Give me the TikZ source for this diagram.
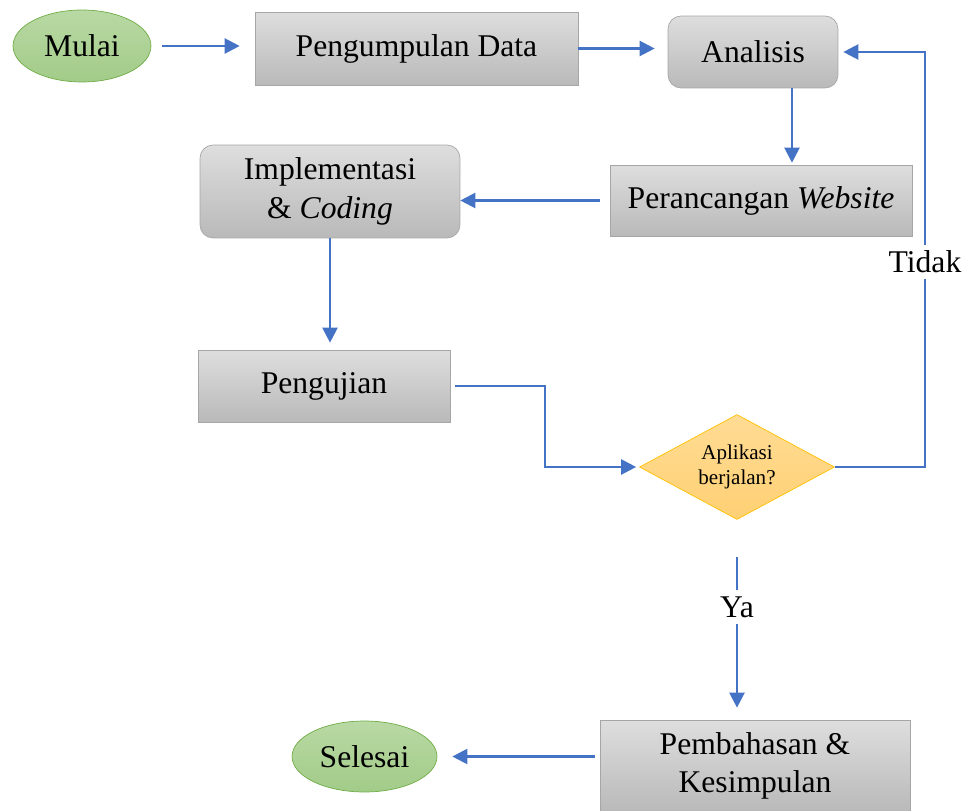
\documentclass[tikz,border=0pt]{standalone}
\usepackage{fontspec}
\setmainfont{Liberation Serif}
\usetikzlibrary{arrows.meta,shapes.geometric,calc}

\definecolor{alurbiru}{HTML}{4472C4}
\definecolor{abuatas}{HTML}{DEDEDE}
\definecolor{abubawah}{HTML}{B9B9B9}
\definecolor{garisabu}{HTML}{A6A6A6}
\definecolor{hijauatas}{HTML}{B9D9A4}
\definecolor{hijaubawah}{HTML}{A2CB88}
\definecolor{garishijau}{HTML}{70AD47}
\definecolor{kuningatas}{HTML}{FFDC94}
\definecolor{kuningbawah}{HTML}{FFD074}
\definecolor{gariskuning}{HTML}{FFC000}

\begin{document}
\begin{tikzpicture}[x=0.02cm, y=-0.02cm,
	font=\fontsize{18}{22}\selectfont,
	kotak/.style={shape=rectangle, draw=garisabu, top color=abuatas, bottom color=abubawah, align=center, inner sep=0pt},
	bulat/.style={kotak, rounded corners=0.26cm},
	oval/.style={shape=ellipse, draw=garishijau, top color=hijauatas, bottom color=hijaubawah, inner sep=0pt},
	cabang/.style={shape=diamond, draw=gariskuning, top color=kuningatas, bottom color=kuningbawah, align=center, inner sep=0pt, aspect=1.86, font=\fontsize{12}{14}\selectfont},
	garis/.style={draw=alurbiru, line width=1.3pt},
	alur/.style={garis, -{Triangle[length=0.3cm,width=0.3cm]}}]

	\clip (0,0) rectangle (968,811);

	\node[oval, minimum width=2.76cm, minimum height=1.44cm] (mulai) at (82, 46) {Mulai};
	\node[kotak, minimum width=6.46cm, minimum height=1.46cm] (data) at (416.5, 48.5) {Pengumpulan Data};
	\node[bulat, minimum width=3.4cm, minimum height=1.44cm] (analisis) at (753, 52) {Analisis};

	\node[kotak, minimum width=6.04cm, minimum height=1.42cm] (rancang) at (761, 200.5) {Perancangan \textit{Website}};
	\node[bulat, minimum width=5.2cm, minimum height=1.86cm] (impl) at (330, 191.5) {Implementasi\\ \& \textit{Coding}};

	\node[kotak, minimum width=5.04cm, minimum height=1.44cm] (uji) at (324, 386) {Pengujian};
	\node[cabang, minimum width=3.9cm, minimum height=2.1cm] (cek) at (737, 467) {Aplikasi\\berjalan?};

	\node (tidak) at (925, 262) {Tidak};
	\node (ya) at (737, 607) {Ya};

	\node[kotak, minimum width=6.2cm, minimum height=1.84cm] (hasil) at (755, 766) {Pembahasan \&\\Kesimpulan};
	\node[oval, minimum width=2.9cm, minimum height=1.42cm] (selesai) at (364.5, 756.5) {Selesai};

	\path[alur, shorten <=0.22cm, shorten >=0.3cm] (mulai.east) -- (mulai.east -| data.west);
	\path[alur, shorten >=0.26cm] (data.east) -- (data.east -| analisis.west);
	\path[alur, shorten >=0.04cm] ([xshift=0.78cm]analisis.south) -- ([xshift=0.78cm]analisis.south |- rancang.north);
	\path[alur, shorten <=0.2cm] (rancang.west) -- (rancang.west -| impl.east);
	\path[alur, shorten >=0.14cm] (impl.south) -- (impl.south |- uji.north);
	\path[alur, shorten <=0.1cm, shorten >=0.06cm] (uji.east) -| ($(uji.east)!0.5!(cek.west)$) |- (cek.west);
	\path[garis] (cek.east) -| (tidak.south);
	\path[alur, shorten >=0.1cm] (tidak.north) |- (analisis.east);
	\path[garis, shorten <=0.74cm] (cek.south) -- (ya.north);
	\path[alur, shorten >=0.24cm] (ya.south) -- (ya.south |- hasil.north);
	\path[alur, shorten <=0.1cm, shorten >=0.3cm] (selesai.east -| hasil.west) -- (selesai.east);

\end{tikzpicture}
\end{document}
